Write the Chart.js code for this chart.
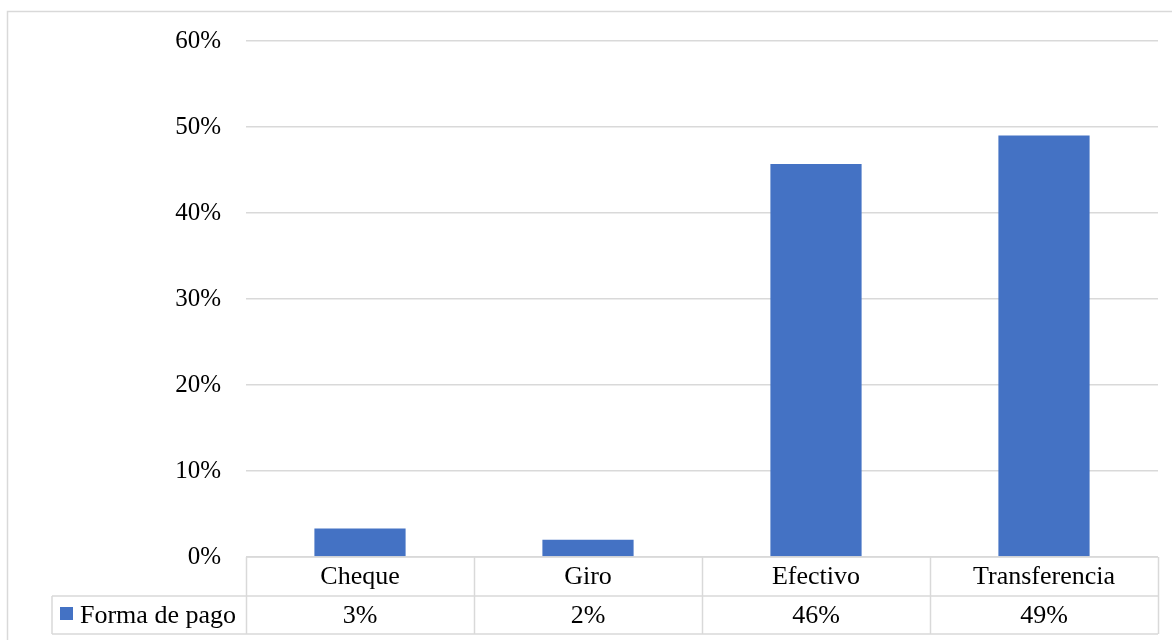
<!DOCTYPE html>
<html>
<head>
<meta charset="utf-8">
<script src="https://cdn.jsdelivr.net/npm/chart.js@4"></script>
<style>
  html, body { margin: 0; padding: 0; background: #fff; }
  #wrap { width: 1172px; height: 640px; }
</style>
</head>
<body>
<div id="wrap"><canvas id="chart" width="1172" height="640"></canvas></div>
<script>
// data
const categories = ['Cheque', 'Giro', 'Efectivo', 'Transferencia'];
const formaDePago = [3.3, 2.0, 45.7, 49.0];
const seriesName = 'Forma de pago';
const yTicks = [0, 10, 20, 30, 40, 50, 60];

const FONT = '"Liberation Serif", "Times New Roman", serif';
const GRID = '#d9d9d9';
const BAR = '#4472c4';

// draws the outer frame and the data table under the plot
const tablePlugin = {
    id: 'dataTable',
    beforeDraw(chart) {
        const ctx = chart.ctx;
        ctx.save();
        ctx.fillStyle = '#fff';
        ctx.fillRect(0, 0, chart.width, chart.height);
        ctx.strokeStyle = GRID;
        ctx.lineWidth = 1.5;
        ctx.beginPath();
        ctx.moveTo(7.5, chart.height + 5);
        ctx.lineTo(7.5, 11.5);
        ctx.lineTo(chart.width + 5, 11.5);
        ctx.stroke();
        ctx.restore();
    },
    afterDraw(chart) {
        const ctx = chart.ctx;
        const area = chart.chartArea;
        const x = chart.scales.x;
        const n = categories.length;
        const step = (area.right - area.left) / n;
        const top = area.bottom;
        const mid = top + 39;
        const bot = mid + 38;
        const headLeft = 52;

        ctx.save();
        ctx.strokeStyle = GRID;
        ctx.lineWidth = 1.5;
        ctx.beginPath();
        // horizontal lines
        ctx.moveTo(area.left, top); ctx.lineTo(area.right, top);
        ctx.moveTo(headLeft, mid); ctx.lineTo(area.right, mid);
        ctx.moveTo(headLeft, bot); ctx.lineTo(area.right, bot);
        // vertical lines
        ctx.moveTo(headLeft, mid); ctx.lineTo(headLeft, bot);
        for (let i = 0; i <= n; i++) {
            const px = Math.round(area.left + i * step) + 0.5;
            ctx.moveTo(px, top); ctx.lineTo(px, bot);
        }
        ctx.stroke();

        ctx.fillStyle = '#000';
        ctx.font = '26px ' + FONT;
        ctx.textAlign = 'center';
        ctx.textBaseline = 'middle';
        categories.forEach((c, i) => {
            const cx = x.getPixelForValue(i);
            ctx.fillText(c, cx, (top + mid) / 2 + 1);
            ctx.fillText(Math.round(formaDePago[i]) + '%', cx, (mid + bot) / 2 + 1);
        });

        // legend key + series name
        ctx.fillStyle = BAR;
        ctx.fillRect(60, 607, 13, 13);
        ctx.fillStyle = '#000';
        ctx.textAlign = 'left';
        ctx.fillText(seriesName, 80, (mid + bot) / 2 + 1);
        ctx.restore();
    }
};

new Chart(document.getElementById('chart'), {
    type: 'bar',
    data: {
        labels: categories,
        datasets: [{
            label: seriesName,
            data: formaDePago,
            backgroundColor: BAR,
            barPercentage: 1,
            categoryPercentage: 0.4
        }]
    },
    options: {
        responsive: false,
        animation: false,
        events: [],
        layout: { padding: { top: 41, right: 14, bottom: 0, left: 0 } },
        plugins: {
            legend: { display: false },
            tooltip: { enabled: false }
        },
        scales: {
            x: {
                grid: { display: false },
                border: { display: false },
                ticks: { display: false },
                afterFit: s => { s.height = 83; }
            },
            y: {
                min: 0,
                max: 60,
                afterBuildTicks: s => { s.ticks = yTicks.map(v => ({ value: v })); },
                grid: { color: GRID, lineWidth: 1.5, drawTicks: false },
                border: { display: false },
                ticks: {
                    color: '#000',
                    font: { family: FONT, size: 25 },
                    padding: 25,
                    callback: v => v + '%'
                },
                afterFit: s => { s.width = 246; }
            }
        }
    },
    plugins: [tablePlugin]
});
</script>
</body>
</html>
